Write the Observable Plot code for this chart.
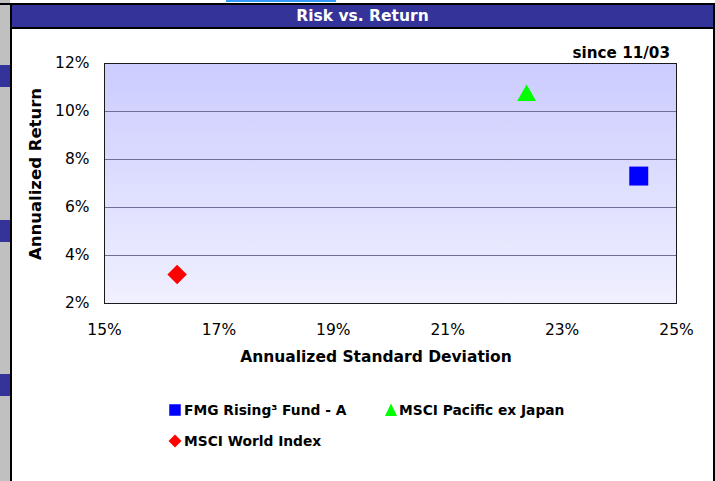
<!DOCTYPE html>
<html><head><meta charset="utf-8">
<script src="https://cdn.jsdelivr.net/npm/d3@7"></script>
<script src="https://cdn.jsdelivr.net/npm/@observablehq/plot@0.6"></script>
<style>
html,body{margin:0;padding:0;background:#fff;}
#wrap{position:relative;width:715px;height:481px;overflow:hidden;background:#fff;font-family:"DejaVu Sans",sans-serif;color:#000;}
.abs{position:absolute;}
#chart svg{position:absolute;left:0;top:0;}
</style></head><body>
<svg width="0" height="0" style="position:absolute">
  <defs>
    <linearGradient id="plotBg" x1="0" y1="0" x2="0" y2="1">
      <stop offset="0" stop-color="#CCCCFF"/>
      <stop offset="1" stop-color="#F0F0FF"/>
    </linearGradient>
  </defs>
</svg>
<div id="wrap">
  <div id="chart" class="abs" style="left:0;top:0;width:715px;height:481px;"></div>
</div>
<script>
// ---- data ----
const seriesNames = ["FMG Rising³ Fund - A", "MSCI Pacific ex Japan", "MSCI World Index"];
const riskValues = [24.34, 22.38, 16.27];     // Annualized Standard Deviation (%)
const returnValues = [7.31, 10.67, 3.21];     // Annualized Return (%)
const xTicks = [15, 17, 19, 21, 23, 25];
const yTicks = [2, 4, 6, 8, 10, 12];
const chartTitle = "Risk vs. Return";
const periodNote = "since 11/03";
const xLabel = "Annualized Standard Deviation";
const yLabel = "Annualized Return";

// ---- styles ----
const seriesColors = ["#0000FF", "#00FF00", "#FF0000"];
const seriesSymbols = ["square", "triangle", "diamond2"];
const symbolRadius = [10.7, 7.05, 8.78];
const pct = d => d + "%";

const data = seriesNames.map((name, i) => ({name, risk: riskValues[i], ret: returnValues[i]}));

const chart = Plot.plot({
  width: 715, height: 481,
  marginLeft: 104, marginRight: 39, marginTop: 63, marginBottom: 178,
  style: {fontFamily: '"DejaVu Sans", sans-serif', fontSize: "16px", color: "#000", background: "transparent", overflow: "visible"},
  x: {domain: [15, 25]},
  y: {domain: [2, 12]},
  marks: [
    Plot.frame({fill: "url(#plotBg)", stroke: "none"}),
    Plot.gridY(yTicks.slice(1, -1), {stroke: "#6E6E96", strokeOpacity: 1, strokeWidth: 1}),
    Plot.frame({stroke: "#1a1a1a", strokeWidth: 1, fill: "none"}),
    Plot.axisX(xTicks, {tickSize: 0, tickPadding: 20, tickFormat: pct, label: null, fontSize: 15.5}),
    Plot.axisY(yTicks, {tickSize: 0, tickPadding: 15, tickFormat: pct, label: null, fontSize: 15.5}),
    ...data.map((d, i) => Plot.dot([d], {
      x: "risk", y: "ret", symbol: seriesSymbols[i], r: symbolRadius[i],
      fill: seriesColors[i], stroke: "none"
    }))
  ]
});
document.getElementById("chart").appendChild(chart);

// ---- page decorations (frame, title, labels, legend) ----
const wrap = document.getElementById("wrap");
function box(css, text) {
  const el = document.createElement("div");
  el.className = "abs";
  el.style.cssText = css;
  if (text != null) el.textContent = text;
  wrap.appendChild(el);
  return el;
}
// left grey strip + tabs
box("left:0;top:0;width:10px;height:481px;background:#C0C0C0;");
[65, 220, 374].forEach(t => box(`left:0;top:${t}px;width:10px;height:22px;background:#333399;`));
box("left:10px;top:3px;width:2px;height:478px;background:#000;");
// top lines
box("left:0;top:3px;width:715px;height:2px;background:#000;");
box("left:226px;top:0;width:110px;height:2px;background:#3399FF;");
// title bar
box("left:12px;top:5px;width:701px;height:22px;background:#333399;");
box("left:12px;top:27px;width:703px;height:2px;background:#000;");
box("left:713px;top:3px;width:2px;height:478px;background:#000;");
box("left:12px;top:5px;width:701px;height:22px;line-height:22px;text-align:center;color:#fff;font-weight:bold;font-size:15.5px;", chartTitle);
// note
box("right:45px;top:45px;height:16px;line-height:16px;font-weight:bold;font-size:15.2px;white-space:nowrap;", periodNote);
// axis titles
box("left:226px;top:347px;width:300px;height:20px;line-height:20px;text-align:center;font-weight:bold;font-size:15.5px;white-space:nowrap;", xLabel);
box("left:-114px;top:164px;width:300px;height:20px;line-height:20px;text-align:center;font-weight:bold;font-size:16.5px;white-space:nowrap;transform:rotate(-90deg);transform-origin:150px 10px;", yLabel);

// legend
const legendPos = [{sx: 174.5, tx: 184, cy: 410}, {sx: 391, tx: 399, cy: 410}, {sx: 175, tx: 184, cy: 441}];
const legendShapes = {
  square: "M-5.75,-5.75H5.75V5.75H-5.75Z",
  triangle: "M0,-6.5L6,6L-6,6Z",
  diamond2: "M0,-6.5L6.5,0L0,6.5L-6.5,0Z"
};
seriesNames.forEach((name, i) => {
  const p = legendPos[i];
  const s = document.createElementNS("http://www.w3.org/2000/svg", "svg");
  s.setAttribute("width", 16); s.setAttribute("height", 16);
  s.setAttribute("viewBox", "-8 -8 16 16");
  s.style.cssText = `position:absolute;left:${p.sx - 8}px;top:${p.cy - 8}px;`;
  const path = document.createElementNS("http://www.w3.org/2000/svg", "path");
  path.setAttribute("d", legendShapes[seriesSymbols[i]]);
  path.setAttribute("fill", seriesColors[i]);
  s.appendChild(path);
  wrap.appendChild(s);
  box(`left:${p.tx}px;top:${p.cy - 9}px;height:18px;line-height:18px;font-weight:bold;font-size:13.8px;white-space:nowrap;`, name);
});
</script>
</body></html>
